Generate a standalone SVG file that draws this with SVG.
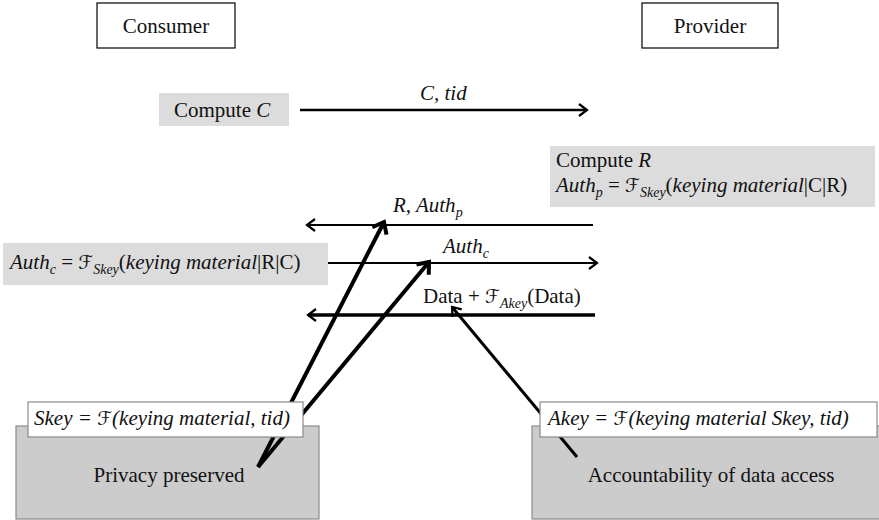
<svg xmlns="http://www.w3.org/2000/svg" width="879" height="520" viewBox="0 0 879 520">
  <style>
    text { font-family: "Liberation Serif", "DejaVu Serif", "Times New Roman", serif; font-size: 21px; fill: #111; }
    .i { font-style: italic; }
    .sub { font-size: 14px; }
    .scr { font-family: "DejaVu Serif", "DejaVu Sans", serif; font-style: normal; font-size: 19px; }
    .party { fill: #fff; stroke: #000; stroke-width: 1.2; }
    .step { fill: #dcdcdc; stroke: none; }
    .role { fill: #cccccc; stroke: #8a8a8a; stroke-width: 1.2; }
    .key { fill: #fff; stroke: #8a8a8a; stroke-width: 1.2; }
    .msg { stroke: #000; fill: none; }
  </style>
  <defs>
    <marker id="head" markerUnits="userSpaceOnUse" markerWidth="16" markerHeight="16" refX="11" refY="8" orient="auto">
      <path d="M3,2 L11,8 L3,14" fill="none" stroke="#000" stroke-width="2.2" stroke-linejoin="miter"/>
    </marker>
    <marker id="headBold" markerUnits="userSpaceOnUse" markerWidth="22" markerHeight="22" refX="13" refY="11" orient="auto">
      <path d="M3,3 L13,11 L3,19" fill="none" stroke="#000" stroke-width="4" stroke-linejoin="miter"/>
    </marker>
  </defs>

  <!-- parties -->
  <g id="consumer">
    <rect class="party" x="97" y="3" width="138" height="45"/>
    <text x="166" y="33" text-anchor="middle">Consumer</text>
  </g>
  <g id="provider">
    <rect class="party" x="642" y="3" width="136" height="45"/>
    <text x="710" y="33" text-anchor="middle">Provider</text>
  </g>

  <!-- computation steps -->
  <g id="compute-c">
    <rect class="step" x="159" y="93" width="130" height="33"/>
    <text x="174" y="117">Compute <tspan class="i">C</tspan></text>
  </g>
  <g id="compute-r">
    <rect class="step" x="550" y="146" width="325" height="61"/>
    <text x="556" y="167">Compute <tspan class="i">R</tspan></text>
    <text x="556" y="192"><tspan class="i">Auth</tspan><tspan class="i sub" dy="5">p</tspan><tspan dy="-5"> = </tspan><tspan class="scr">ℱ</tspan><tspan class="i sub" dy="5">Skey</tspan><tspan dy="-5">(</tspan><tspan class="i">keying material</tspan>|C|R)</text>
  </g>
  <g id="compute-auth-c">
    <rect class="step" x="3" y="243" width="325" height="42"/>
    <text x="10" y="269"><tspan class="i">Auth</tspan><tspan class="i sub" dy="5">c</tspan><tspan dy="-5"> = </tspan><tspan class="scr">ℱ</tspan><tspan class="i sub" dy="5">Skey</tspan><tspan dy="-5">(</tspan><tspan class="i">keying material</tspan>|R|C)</text>
  </g>

  <!-- consumer and provider roles -->
  <g id="privacy">
    <rect class="role" x="16" y="426" width="303" height="93"/>
    <text x="169" y="482" text-anchor="middle">Privacy preserved</text>
  </g>
  <g id="accountability">
    <rect class="role" x="532" y="426" width="350" height="93"/>
    <text x="711" y="482" text-anchor="middle">Accountability of data access</text>
  </g>

  <!-- messages and links (key derivation boxes sit on top) -->
  <g id="connectors">
    <line class="msg" x1="300" y1="110" x2="587" y2="110" stroke-width="2.5" marker-end="url(#head)"/>
    <line class="msg" x1="593" y1="225" x2="307" y2="225" stroke-width="2" marker-end="url(#head)"/>
    <line class="msg" x1="328" y1="263" x2="597" y2="263" stroke-width="2" marker-end="url(#head)"/>
    <line class="msg" x1="595" y1="315" x2="308" y2="315" stroke-width="3.5" marker-end="url(#head)"/>
    <line class="msg" x1="258" y1="467" x2="384" y2="222" stroke-width="4" marker-end="url(#headBold)"/>
    <line class="msg" x1="258" y1="467" x2="429" y2="262" stroke-width="4" marker-end="url(#headBold)"/>
    <line class="msg" x1="577" y1="457" x2="452" y2="307" stroke-width="3" marker-end="url(#head)"/>
  </g>

  <!-- key derivations -->
  <g id="skey">
    <rect class="key" x="28" y="402" width="275" height="35"/>
    <text class="i" x="34" y="425">Skey = <tspan class="scr">ℱ</tspan>(keying material, tid)</text>
  </g>
  <g id="akey">
    <rect class="key" x="540" y="402" width="337" height="35"/>
    <text class="i" x="548" y="425">Akey = <tspan class="scr">ℱ</tspan>(keying material Skey, tid)</text>
  </g>

  <!-- message labels -->
  <g id="labels">
    <text class="i" x="420" y="100">C, tid</text>
    <text x="393" y="212"><tspan class="i">R, Auth</tspan><tspan class="i sub" dy="5">p</tspan></text>
    <text x="443" y="253"><tspan class="i">Auth</tspan><tspan class="i sub" dy="5">c</tspan></text>
    <text x="423" y="303">Data + <tspan class="scr">ℱ</tspan><tspan class="i sub" dy="5">Akey</tspan><tspan dy="-5">(Data)</tspan></text>
  </g>
</svg>
